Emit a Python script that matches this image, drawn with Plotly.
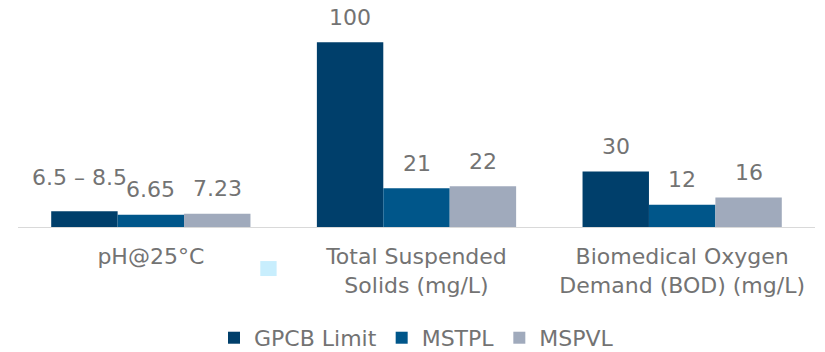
import plotly.graph_objects as go

# Parameters compared for each standard / site
categories = ["pH@25°C", "Total Suspended<br>Solids (mg/L)", "Biomedical Oxygen<br>Demand (BOD) (mg/L)"]
series_names = ["GPCB Limit", "MSTPL", "MSPVL"]
gpcb_limit = [8.5, 100, 30]
mstpl = [6.65, 21, 12]
mspvl = [7.23, 22, 16]
gpcb_labels = ["6.5 – 8.5", "100", "30"]
mstpl_labels = ["6.65", "21", "12"]
mspvl_labels = ["7.23", "22", "16"]

colors = ["#003F6B", "#00568A", "#A0AABC"]
label_color = "#737373"
font_family = "DejaVu Sans"
font_size = 22

values = [gpcb_limit, mstpl, mspvl]
labels = [gpcb_labels, mstpl_labels, mspvl_labels]
x_idx = list(range(len(categories)))

fig = go.Figure()
for name, vals, col in zip(series_names, values, colors):
    fig.add_trace(go.Bar(
        x=x_idx, y=vals, name=name,
        marker=dict(color=col, line=dict(width=0)),
        hoverinfo="skip",
    ))

# value labels above each bar
bar_w = 0.25
offsets = [-bar_w, 0.0, bar_w]
annotations = []
for s, (vals, labs) in enumerate(zip(values, labels)):
    for i, (v, t) in enumerate(zip(vals, labs)):
        first = (s == 0 and i == 0)
        annotations.append(dict(
            x=i + offsets[s], y=v, xref="x", yref="y",
            text=t, showarrow=False,
            yanchor="middle", xanchor="center",
            yshift=34 if first else 25,
            xshift=-5 if first else 0,
            font=dict(family=font_family, size=font_size, color=label_color),
        ))

fig.update_layout(
    width=825, height=352,
    margin=dict(l=18, r=10, t=10, b=125),
    paper_bgcolor="white", plot_bgcolor="white",
    barmode="group", bargap=0.25, bargroupgap=0,
    showlegend=True,
    legend=dict(
        orientation="h", x=0.5, xanchor="center",
        yref="container", y=0.04, yanchor="middle",
        font=dict(family=font_family, size=font_size, color=label_color),
        itemclick=False, itemdoubleclick=False,
    ),
    annotations=annotations,
    shapes=[dict(
        type="rect", xref="paper", yref="paper",
        x0=0.304, x1=0.3245, y0=-0.157, y1=-0.226,
        fillcolor="#C8EEFD", line=dict(width=0), layer="above",
    )],
    xaxis=dict(
        tickmode="array", tickvals=x_idx, ticktext=categories,
        range=[-0.5, 2.5], showgrid=False, zeroline=False,
        showline=True, linecolor="#D9D9D9", linewidth=1,
        ticks="", tickfont=dict(family=font_family, size=font_size, color=label_color),
        ticklabelstandoff=10,
    ),
    yaxis=dict(
        range=[0, 117.5], visible=False, showgrid=False, zeroline=False,
    ),
)

fig.write_html("out.html")
